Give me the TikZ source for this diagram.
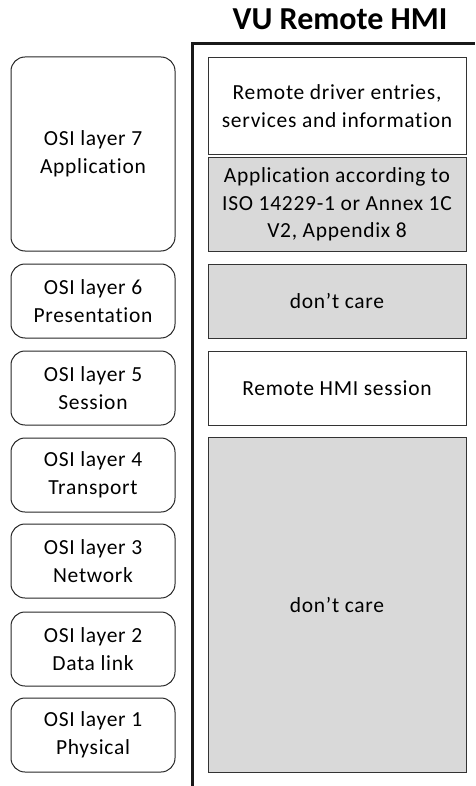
\documentclass[tikz,border=0pt]{standalone}
\usepackage{fontspec}
\setmainfont{Carlito}[RawFeature={-liga}]
\newfontfamily\boxfont{Carlito}[RawFeature={-liga}, LetterSpace=3.3]
\begin{document}
\begin{tikzpicture}[x=1pt,y=-1pt,
  every node/.style={font=\boxfont\fontsize{21.5}{27.5}\selectfont, align=center, inner sep=0pt, text=black},
  osibox/.style={draw=black!85, line width=1pt, rounded corners=14pt, minimum width=164pt},
  hmibox/.style={draw=black!80, line width=1pt, minimum width=258pt},
  grayfill/.style={fill=black!15}]
\useasboundingbox (0,0) rectangle (475,786);
\node[font=\rmfamily\fontsize{32}{36}\selectfont\bfseries] (title) at (340,19) {VU Remote HMI};
% frame
\coordinate (ftop) at (192,44);
\coordinate (fbot) at (192,786);
\coordinate (fright) at (475,44);
\draw[line width=3pt, black!90] (fbot) -- (ftop) -- (fright);
% left OSI boxes
\node[osibox, minimum height=194pt] (l7) at (93,154) {OSI layer 7\\Application};
\node[osibox, minimum height=74pt] (l6) at (93,301) {OSI layer 6\\Presentation};
\node[osibox, minimum height=74pt] (l5) at (93,388) {OSI layer 5\\Session};
\node[osibox, minimum height=74pt] (l4) at (93,475) {OSI layer 4\\Transport};
\node[osibox, minimum height=74pt] (l3) at (93,561) {OSI layer 3\\Network};
\node[osibox, minimum height=74pt] (l2) at (93,649) {OSI layer 2\\Data link};
\node[osibox, minimum height=74pt] (l1) at (93,735) {OSI layer 1\\Physical};
% right boxes
\node[hmibox, minimum height=97pt] (r1) at (337,106) {Remote driver entries,\\services and information};
\node[hmibox, grayfill, minimum height=93pt] (r2) at (337,204.5) {Application according to\\ISO 14229-1 or Annex 1C\\V2, Appendix 8};
\node[hmibox, grayfill, minimum height=74pt] (r3) at (337,301) {don’t care};
\node[hmibox, minimum height=74pt] (r4) at (337,388) {Remote HMI session};
\node[hmibox, grayfill, minimum height=335pt] (r5) at (337,604.5) {don’t care};
\end{tikzpicture}
\end{document}
